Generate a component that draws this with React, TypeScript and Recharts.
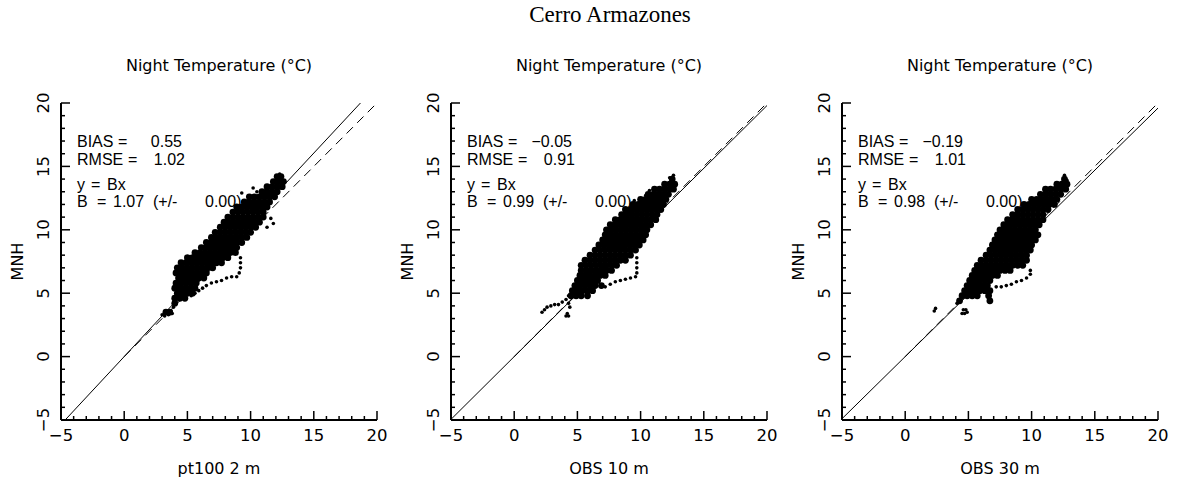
import React from 'react';
import { ScatterChart, Scatter, XAxis, YAxis, ReferenceLine } from 'recharts';

// ---------- data ----------
const mainTitle = 'Cerro Armazones';
const panelTitle = 'Night Temperature (°C)';
const xLabels = ['pt100 2 m', 'OBS 10 m', 'OBS 30 m'];
const yLabel = 'MNH';
const axisDomain: [number, number] = [-5, 20];
const axisTicks = [-5, -4, -3, -2, -1, 0, 1, 2, 3, 4, 5, 6, 7, 8, 9, 10, 11, 12, 13, 14, 15, 16, 17, 18, 19, 20];
const majorTicks = [-5, 0, 5, 10, 15, 20];

const biasValues = [0.55, -0.05, -0.19];
const rmseValues = [1.02, 0.91, 1.01];
const slopeValues = [1.07, 0.99, 0.98];
const slopeErrors = [0.0, 0.0, 0.0];
const oneToOneStart = 0;

// dense cloud rows: [MNH value, list of observed values]
const dense1: [number, number[]][] = [
  [14.2, [12.1, 12.4]],
  [13.8, [11.8, 12.2, 12.6]],
  [13.4, [11.3, 11.7, 12.1, 12.5]],
  [13.0, [10.9, 11.3, 11.7, 12.1]],
  [12.6, [9.9, 10.3, 10.7, 11.1, 11.5, 11.9]],
  [12.2, [9.5, 9.9, 10.3, 10.7, 11.1, 11.5]],
  [11.8, [8.9, 9.3, 9.7, 10.1, 10.5, 10.9, 11.3]],
  [11.4, [8.6, 9.0, 9.4, 9.8, 10.2, 10.6, 11.0]],
  [11.0, [8.2, 8.6, 9.0, 9.4, 9.8, 10.2, 10.6, 11.0]],
  [10.6, [7.9, 8.3, 8.7, 9.1, 9.5, 9.9, 10.3, 10.7]],
  [10.2, [7.6, 8.0, 8.4, 8.8, 9.2, 9.6, 10.0, 10.4]],
  [9.8, [7.2, 7.6, 8.0, 8.4, 8.8, 9.2, 9.6, 10.0]],
  [9.4, [6.9, 7.3, 7.7, 8.1, 8.5, 8.9, 9.3, 9.7]],
  [9.0, [6.5, 6.9, 7.3, 7.7, 8.1, 8.5, 8.9, 9.3]],
  [8.6, [6.1, 6.5, 6.9, 7.3, 7.7, 8.1, 8.5, 8.9]],
  [8.2, [5.6, 6.0, 6.4, 6.8, 7.2, 7.6, 8.0, 8.4, 8.8]],
  [7.8, [5.0, 5.4, 5.8, 6.2, 6.6, 7.0, 7.4, 7.8, 8.2]],
  [7.4, [4.5, 4.9, 5.3, 5.7, 6.1, 6.5, 6.9, 7.3, 7.7]],
  [7.0, [4.2, 4.6, 5.0, 5.4, 5.8, 6.2, 6.6, 7.0]],
  [6.6, [4.1, 4.5, 4.9, 5.3, 5.7, 6.1, 6.5]],
  [6.2, [4.3, 4.7, 5.1, 5.5, 5.9, 6.3]],
  [5.8, [4.1, 4.5, 4.9, 5.3, 5.7]],
  [5.4, [4.0, 4.4, 4.8, 5.2, 5.6]],
  [5.0, [4.2, 4.6, 5.0, 5.4]],
  [4.6, [4.0, 4.4, 4.8]],
  [4.2, [4.0]],
  [3.5, [3.3, 3.6]],
];
const sparse1: [number, number][] = [
  [12.3, 14.4], [10.2, 13.3], [10.5, 13.0], [9.3, 12.9], [11.8, 10.5], [11.6, 10.9], [11.3, 10.2],
  [9.2, 7.8], [9.2, 7.4], [9.2, 7.0], [9.1, 6.6], [8.9, 6.3], [8.5, 6.3], [8.1, 6.2], [7.7, 6.0],
  [7.3, 5.9], [6.9, 5.8], [6.5, 5.6], [6.2, 5.4], [5.9, 5.2], [5.6, 5.0], [5.3, 4.8],
  [3.0, 3.3], [3.2, 3.2], [3.5, 3.3], [3.8, 3.4], [3.7, 3.6], [3.9, 3.9], [4.1, 4.3],
];

const dense2: [number, number[]][] = [
  [14.0, [12.5]],
  [13.6, [11.9, 12.3, 12.7]],
  [13.2, [11.1, 11.5, 11.9, 12.3, 12.6]],
  [12.8, [10.6, 11.0, 11.4, 11.8, 12.2]],
  [12.4, [10.0, 10.4, 10.8, 11.2, 11.6, 12.0]],
  [12.0, [9.4, 9.8, 10.2, 10.6, 11.0, 11.4, 11.8]],
  [11.6, [8.8, 9.2, 9.6, 10.0, 10.4, 10.8, 11.2, 11.6]],
  [11.2, [8.5, 8.9, 9.3, 9.7, 10.1, 10.5, 10.9, 11.3]],
  [10.8, [8.0, 8.4, 8.8, 9.2, 9.6, 10.0, 10.4, 10.8, 11.2]],
  [10.4, [7.6, 8.0, 8.4, 8.8, 9.2, 9.6, 10.0, 10.4, 10.8]],
  [10.0, [7.3, 7.7, 8.1, 8.5, 8.9, 9.3, 9.7, 10.1, 10.5]],
  [9.6, [7.2, 7.6, 8.0, 8.4, 8.8, 9.2, 9.6, 10.0, 10.4]],
  [9.2, [7.0, 7.4, 7.8, 8.2, 8.6, 9.0, 9.4, 9.8, 10.2]],
  [8.8, [6.7, 7.1, 7.5, 7.9, 8.3, 8.7, 9.1, 9.5, 9.9]],
  [8.4, [6.4, 6.8, 7.2, 7.6, 8.0, 8.4, 8.8, 9.2, 9.6]],
  [8.0, [6.0, 6.4, 6.8, 7.2, 7.6, 8.0, 8.4, 8.8, 9.2]],
  [7.6, [5.6, 6.0, 6.4, 6.8, 7.2, 7.6, 8.0, 8.4, 8.8]],
  [7.2, [5.3, 5.7, 6.1, 6.5, 6.9, 7.3, 7.7, 8.1]],
  [6.8, [5.3, 5.7, 6.1, 6.5, 6.9, 7.3, 7.7]],
  [6.4, [5.2, 5.6, 6.0, 6.4, 6.8, 7.2]],
  [6.0, [5.0, 5.4, 5.8, 6.2, 6.6]],
  [5.6, [4.8, 5.2, 5.6, 6.0, 6.4, 6.9]],
  [5.2, [4.6, 5.0, 5.4, 5.8, 6.2]],
  [4.8, [4.5, 4.9, 5.3, 5.8]],
];
const sparse2: [number, number][] = [
  [12.6, 14.3], [12.3, 14.1], [10.7, 13.1], [10.4, 12.7], [9.5, 12.3],
  [2.2, 3.5], [2.4, 3.7], [2.6, 3.9], [2.9, 4.0], [3.2, 4.1], [3.5, 4.1], [3.8, 4.3], [4.1, 4.5], [4.3, 4.8],
  [4.1, 3.2], [4.3, 3.2], [4.2, 3.4], [4.4, 3.9], [4.3, 4.2],
  [9.7, 7.8], [9.7, 7.4], [9.7, 7.0], [9.7, 6.6], [9.6, 6.3], [9.2, 6.2], [8.8, 6.1], [8.4, 6.0],
  [8.0, 5.9], [7.6, 5.7], [7.2, 5.5],
];

const dense3: [number, number[]][] = [
  [14.0, [12.6]],
  [13.6, [12.0, 12.4, 12.8]],
  [13.2, [11.1, 11.5, 11.9, 12.3, 12.7]],
  [12.8, [10.7, 11.1, 11.5, 11.9, 12.3]],
  [12.4, [10.0, 10.4, 10.8, 11.2, 11.6, 12.0]],
  [12.0, [9.4, 9.8, 10.2, 10.6, 11.0, 11.4, 11.8]],
  [11.6, [8.9, 9.3, 9.7, 10.1, 10.5, 10.9, 11.3]],
  [11.2, [8.5, 8.9, 9.3, 9.7, 10.1, 10.5, 10.9]],
  [10.8, [8.1, 8.5, 8.9, 9.3, 9.7, 10.1, 10.5, 10.9]],
  [10.4, [7.8, 8.2, 8.6, 9.0, 9.4, 9.8, 10.2, 10.6]],
  [10.0, [7.5, 7.9, 8.3, 8.7, 9.1, 9.5, 9.9, 10.3]],
  [9.6, [7.3, 7.7, 8.1, 8.5, 8.9, 9.3, 9.7, 10.1, 10.5]],
  [9.2, [7.1, 7.5, 7.9, 8.3, 8.7, 9.1, 9.5, 9.9, 10.3]],
  [8.8, [6.9, 7.3, 7.7, 8.1, 8.5, 8.9, 9.3, 9.7, 10.0]],
  [8.4, [6.7, 7.1, 7.5, 7.9, 8.3, 8.7, 9.1, 9.5, 9.9]],
  [8.0, [6.4, 6.8, 7.2, 7.6, 8.0, 8.4, 8.8, 9.2, 9.6]],
  [7.6, [6.0, 6.4, 6.8, 7.2, 7.6, 8.0, 8.4, 8.8, 9.2, 9.6]],
  [7.2, [5.7, 6.1, 6.5, 6.9, 7.3, 7.7, 8.1, 8.5, 8.9, 9.3]],
  [6.8, [5.5, 5.9, 6.3, 6.7, 7.1, 7.5, 7.9, 8.3]],
  [6.4, [5.3, 5.7, 6.1, 6.5, 6.9, 7.3]],
  [6.0, [5.1, 5.5, 5.9, 6.3, 6.7]],
  [5.6, [4.9, 5.3, 5.7, 6.1, 6.5]],
  [5.2, [4.7, 5.1, 5.5, 5.9, 6.3, 6.7]],
  [4.8, [4.5, 4.9, 5.3, 5.7, 6.6]],
  [4.4, [4.3, 6.7]],
];
const sparse3: [number, number][] = [
  [12.6, 14.3], [12.8, 13.9], [11.2, 13.1],
  [2.3, 3.6], [2.4, 3.8], [4.5, 3.4], [4.7, 3.4], [4.9, 3.5], [4.6, 3.7], [4.8, 3.7], [4.1, 4.2],
  [9.9, 6.8], [9.9, 6.5], [9.6, 6.2], [9.2, 6.0], [8.8, 5.9], [8.4, 5.7], [8.0, 5.6], [7.6, 5.5], [7.2, 5.5],
];

const denseSets = [dense1, dense2, dense3];
const sparseSets = [sparse1, sparse2, sparse3];

// ---------- layout ----------
const CHART_W = 390;
const CHART_H = 485;
const chartLefts = [0, 390, 781];
const MARGIN = { top: 103, right: 13, bottom: 15, left: 21 };
const Y_AXIS_W = 40;
const X_AXIS_H = 50;
const PLOT_W = CHART_W - MARGIN.left - MARGIN.right - Y_AXIS_W;
const PLOT_TOP = MARGIN.top;
const PLOT_BOTTOM = CHART_H - MARGIN.bottom - X_AXIS_H;
const FONT = 'DejaVu Sans';
const ANNOT_FONT = 'Liberation Sans';

const fmtNum = (v: number, d = 0) => {
  const s = Math.abs(v).toFixed(d);
  return v < 0 ? '\u2212' + s : s;
};

const makeTick = (side: 'bottom' | 'top' | 'left' | 'right') => (props: any) => {
  const { x, y, payload } = props;
  const v = payload.value;
  const major = majorTicks.includes(v);
  const len = major ? 9 : 4;
  const common = { stroke: '#000', strokeWidth: 1.5 };
  if (side === 'bottom') {
    return (
      <g>
        <line x1={x} x2={x} y1={y} y2={y - len} {...common} />
        {major && (
          <text x={x} y={y + 21} textAnchor="middle" fontFamily={FONT} fontSize={16.5} fill="#000">
            {fmtNum(v)}
          </text>
        )}
      </g>
    );
  }
  if (side === 'top') {
    return <line x1={x} x2={x} y1={y} y2={y + len} {...common} />;
  }
  if (side === 'right') {
    return <line x1={x} x2={x - len} y1={y} y2={y} {...common} />;
  }
  return (
    <g>
      <line x1={x} x2={x + len} y1={y} y2={y} {...common} />
      {major && (
        <text
          x={x - 12}
          y={y}
          textAnchor="middle"
          transform={`rotate(-90 ${x - 12} ${y})`}
          fontFamily={FONT}
          fontSize={16.5}
          fill="#000"
        >
          {fmtNum(v)}
        </text>
      )}
    </g>
  );
};

const bottomTick = makeTick('bottom');
const topTick = makeTick('top');
const leftTick = makeTick('left');
const rightTick = makeTick('right');

const axisLineStyle = { stroke: '#000', strokeWidth: 2 };

const DenseDot = (p: any) => <circle cx={p.cx} cy={p.cy} r={3.4} fill="#000" />;
const SparseDot = (p: any) => <circle cx={p.cx} cy={p.cy} r={1.8} fill="#000" />;

function Panel({ idx }: { idx: number }) {
  const B = slopeValues[idx];
  const dense = denseSets[idx].flatMap(([yv, xs]) => xs.map((xv) => ({ x: xv, y: yv })));
  const sparse = sparseSets[idx].map(([xv, yv]) => ({ x: xv, y: yv }));
  const lo = axisDomain[0];
  const hi = axisDomain[1];
  const fitStart = { x: Math.max(lo, lo / B), y: Math.max(lo, lo / B) * B };
  const fitEnd = { x: Math.min(hi, hi / B), y: Math.min(hi, hi / B) * B };
  return (
    <div style={{ position: 'absolute', left: chartLefts[idx], top: 0 }}>
      <ScatterChart width={CHART_W} height={CHART_H} margin={MARGIN}>
        <XAxis
          xAxisId={0}
          type="number"
          dataKey="x"
          domain={axisDomain}
          ticks={axisTicks}
          interval={0}
          tickSize={0}
          tickMargin={0}
          tickLine={false}
          tick={bottomTick}
          axisLine={axisLineStyle}
          height={X_AXIS_H}
          allowDataOverflow
        />
        <XAxis
          xAxisId="top"
          orientation="top"
          type="number"
          domain={axisDomain}
          ticks={axisTicks}
          interval={0}
          tickSize={0}
          tickMargin={0}
          tickLine={false}
          tick={topTick}
          axisLine={axisLineStyle}
          height={0}
          allowDataOverflow
        />
        <YAxis
          yAxisId={0}
          type="number"
          dataKey="y"
          domain={axisDomain}
          ticks={axisTicks}
          interval={0}
          tickSize={0}
          tickMargin={0}
          tickLine={false}
          tick={leftTick}
          axisLine={axisLineStyle}
          width={Y_AXIS_W}
          allowDataOverflow
        />
        <YAxis
          yAxisId="right"
          orientation="right"
          type="number"
          domain={axisDomain}
          ticks={axisTicks}
          interval={0}
          tickSize={0}
          tickMargin={0}
          tickLine={false}
          tick={rightTick}
          axisLine={axisLineStyle}
          width={0}
          allowDataOverflow
        />
        <ReferenceLine
          segment={[{ x: oneToOneStart, y: oneToOneStart }, { x: hi, y: hi }]}
          stroke="#000"
          strokeWidth={1}
          strokeDasharray="9 6"
          ifOverflow="hidden"
        />
        <ReferenceLine segment={[fitStart, fitEnd]} stroke="#000" strokeWidth={1} ifOverflow="hidden" />
        <Scatter data={dense} shape={DenseDot} isAnimationActive={false} />
        <Scatter data={sparse} shape={SparseDot} isAnimationActive={false} />
      </ScatterChart>
    </div>
  );
}

function Annotations({ idx }: { idx: number }) {
  const PL = chartLefts[idx] + MARGIN.left + Y_AXIS_W;
  const PC = PL + PLOT_W / 2;
  const midY = (PLOT_TOP + PLOT_BOTTOM) / 2;
  const t = { fontFamily: FONT, fontSize: 16, fill: '#000' } as const;
  const a = { fontFamily: ANNOT_FONT, fontSize: 16, fill: '#000' } as const;
  return (
    <g>
      <text x={PC} y={70.5} textAnchor="middle" {...t}>{panelTitle}</text>
      <text x={PC} y={474} textAnchor="middle" {...t}>{xLabels[idx]}</text>
      <text x={PL - 38} y={midY} textAnchor="middle" transform={`rotate(-90 ${PL - 38} ${midY})`} {...t}>
        {yLabel}
      </text>
      <text x={PL + 16} y={146.5} {...a}>BIAS</text>
      <text x={PL + 57} y={146.5} {...a}>=</text>
      <text x={PL + 121} y={146.5} textAnchor="end" {...a}>{fmtNum(biasValues[idx], 2)}</text>
      <text x={PL + 16} y={165} {...a}>RMSE</text>
      <text x={PL + 67} y={165} {...a}>=</text>
      <text x={PL + 124} y={165} textAnchor="end" {...a}>{fmtNum(rmseValues[idx], 2)}</text>
      <text x={PL + 16} y={190} {...a}>y</text>
      <text x={PL + 30} y={190} {...a}>=</text>
      <text x={PL + 46} y={190} {...a}>Bx</text>
      <text x={PL + 16} y={207} {...a}>B</text>
      <text x={PL + 36} y={207} {...a}>=</text>
      <text x={PL + 52} y={207} {...a}>{fmtNum(slopeValues[idx], 2)}</text>
      <text x={PL + 92} y={207} {...a}>(+/-</text>
      <text x={PL + 144} y={207} {...a}>{fmtNum(slopeErrors[idx], 2)})</text>
    </g>
  );
}

export default function App() {
  return (
    <div style={{ position: 'absolute', left: 0, top: 0, width: 1177, height: 485, background: '#fff' }}>
      {[0, 1, 2].map((i) => (
        <Panel key={i} idx={i} />
      ))}
      <svg width={1177} height={485} style={{ position: 'absolute', left: 0, top: 0, pointerEvents: 'none' }}>
        <text x={610} y={22} textAnchor="middle" fontFamily="Liberation Serif" fontSize={23} fill="#000">
          {mainTitle}
        </text>
        {[0, 1, 2].map((i) => (
          <Annotations key={i} idx={i} />
        ))}
      </svg>
    </div>
  );
}
